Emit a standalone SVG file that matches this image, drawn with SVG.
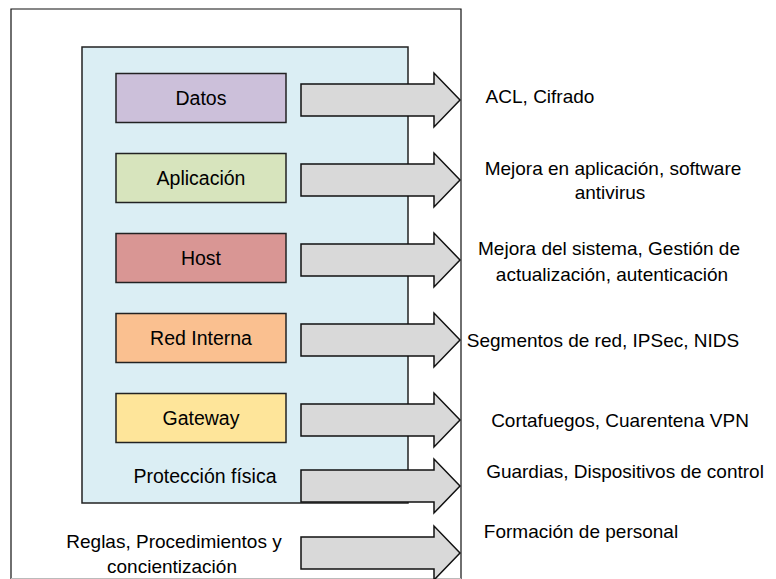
<svg xmlns="http://www.w3.org/2000/svg" width="776" height="579" viewBox="0 0 776 579">
<style>
text{font-family:"Liberation Sans",Arial,sans-serif;font-size:19px;fill:#000}
.c{text-anchor:middle}
.b{font-size:19.5px}
.box{stroke:#222;stroke-width:1.5}
.arrow{fill:#d9d9d9;stroke:#111;stroke-width:1.5;stroke-linejoin:miter}
</style>
<defs>
<path id="arr" class="arrow" d="M301,-16 H434 V-27 L460,0 L434,27 V16 H301 Z"/>
</defs>
<rect width="776" height="579" fill="#fff"/>
<g id="outer">
<path d="M11,579 V9 H461 V579" fill="none" stroke="#111" stroke-width="1.2"/>
<line x1="11" y1="578.5" x2="461" y2="578.5" stroke="#bbb" stroke-width="1"/>
</g>
<g id="fisica">
<rect x="82" y="47" width="326" height="456" fill="#dbeef4" stroke="#222" stroke-width="1.5"/>
<text class="c b" x="205" y="483">Protección física</text>
</g>
<g id="datos"><rect class="box" x="116" y="73.5" width="170" height="49" fill="#ccc0da"/><text class="c b" x="201" y="105">Datos</text></g>
<g id="aplicacion"><rect class="box" x="116" y="153.5" width="170" height="49" fill="#d7e4bd"/><text class="c b" x="201" y="185">Aplicación</text></g>
<g id="host"><rect class="box" x="116" y="233.5" width="170" height="49" fill="#d99694"/><text class="c b" x="201" y="265">Host</text></g>
<g id="red"><rect class="box" x="116" y="313.5" width="170" height="49" fill="#fac090"/><text class="c b" x="201" y="345">Red Interna</text></g>
<g id="gateway"><rect class="box" x="116" y="393.5" width="170" height="49" fill="#fee59a"/><text class="c b" x="201" y="425">Gateway</text></g>
<g id="reglas"><text class="c" x="174" y="548">Reglas, Procedimientos y</text><text class="c" x="172" y="573">concientización</text></g>
<g id="connectors">
<use href="#arr" transform="translate(0,100)"/>
<use href="#arr" transform="translate(0,180)"/>
<use href="#arr" transform="translate(0,260)"/>
<use href="#arr" transform="translate(0,340)"/>
<use href="#arr" transform="translate(0,420)"/>
<use href="#arr" transform="translate(0,486)"/>
<use href="#arr" transform="translate(0,553)"/>
</g>
<g id="labels">
<text class="c" x="540" y="103">ACL, Cifrado</text>
<text class="c" x="613" y="175">Mejora en aplicación, software</text>
<text class="c" x="610" y="199">antivirus</text>
<text class="c" x="609" y="255">Mejora del sistema, Gestión de</text>
<text class="c" x="612" y="281">actualización, autenticación</text>
<text class="c" x="603" y="347">Segmentos de red, IPSec, NIDS</text>
<text class="c" x="620" y="427">Cortafuegos, Cuarentena VPN</text>
<text class="c" x="625" y="478">Guardias, Dispositivos de control</text>
<text class="c" x="581" y="538">Formación de personal</text>
</g>
</svg>
